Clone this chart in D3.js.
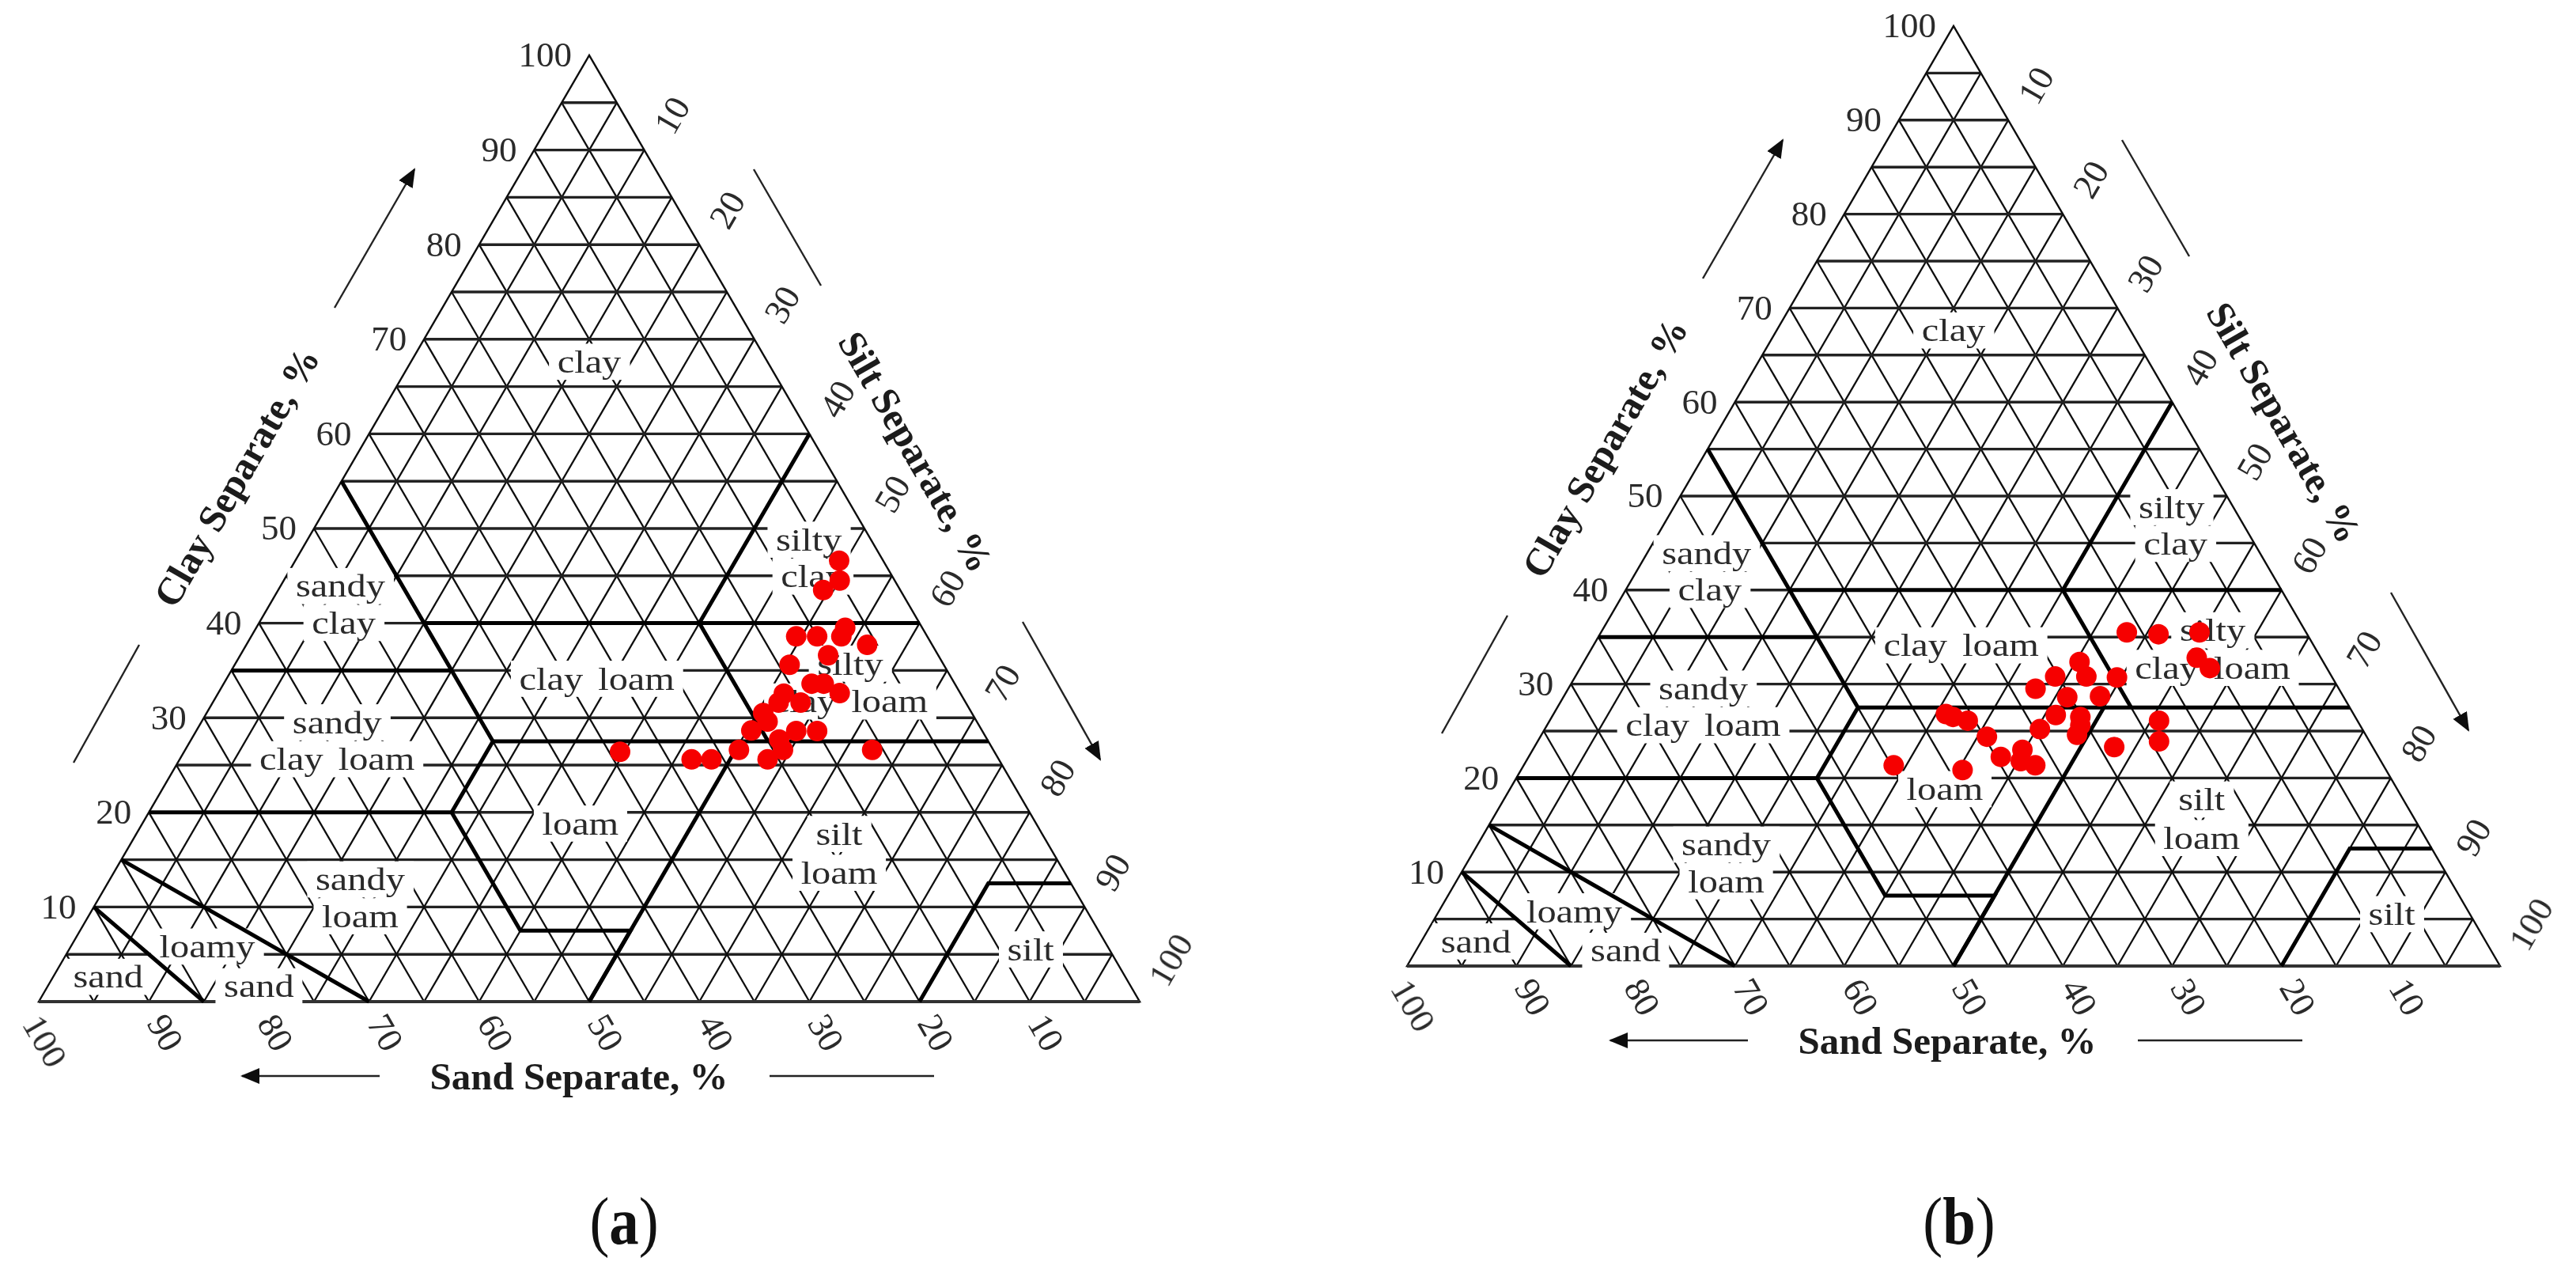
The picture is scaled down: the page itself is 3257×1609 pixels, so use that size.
<!DOCTYPE html>
<html lang="en">

<head>
    <meta charset="UTF-8">
    <title>Soil texture triangles</title>
    <script src="https://d3js.org/d3.v7.min.js"></script>
    <style>
        html, body {
            margin: 0;
            background: #fff;
        }

        text {
            font-family: "Liberation Serif", serif;
        }
    </style>
</head>

<body>
    <svg id="chart" width="3257" height="1609" viewBox="0 0 3257 1609"></svg>
    <script>
        // tick labels, all three sides
        let tickValues = [10, 20, 30, 40, 50, 60, 70, 80, 90, 100]
        let gridSteps = [5, 10, 15, 20, 25, 30, 35, 40, 45, 50, 55, 60, 65, 70, 75, 80, 85, 90, 95]

        // texture class borders as [clay, silt] runs
        let classBorders = [
            [[55, 0], [27.5, 27.5], [20, 27.5], [7.5, 40], [7.5, 50], [0, 50]],
            [[40, 15], [40, 60]],
            [[60, 40], [40, 40], [27.5, 52.5]],
            [[27.5, 27.5], [27.5, 72.5]],
            [[35, 0], [35, 20]],
            [[20, 0], [20, 27.5]],
            [[27.5, 50], [0, 50]],
            [[0, 80], [12.5, 80], [12.5, 87.5]],
            [[15, 0], [0, 30]],
            [[10, 0], [0, 15]]
        ]

        // texture class labels
        let classNames = ["clay", "silty", "clay", "sandy", "clay", "clay loam", "silty", "clay loam", "sandy", "clay loam", "loam", "silt", "loam", "sandy", "loam", "loamy", "sand", "sand", "silt"]
        let classClay = [67.5, 48.7, 44.8, 43.8, 39.9, 34, 35.6, 31.6, 29.4, 25.5, 18.7, 17.6, 13.5, 12.8, 8.9, 5.7, 1.5, 2.5, 5.4]
        let classSilt = [16.25, 45.6, 47.9, 5.5, 7.75, 33.7, 55.9, 57.9, 12.4, 14.35, 39.85, 63.9, 65.95, 22.8, 24.75, 12.45, 19.25, 5.05, 87.4]

        // samples, panel a
        let clayA = [46.6, 44.5, 43.5, 39.5, 38.6, 38.6, 38.6, 37.7, 36.6, 35.6, 33.6, 33.6, 32.6, 32.55, 31.6, 31.6, 30.5, 29.6, 28.65, 28.6, 28.6, 27.7, 26.6, 26.6, 25.6, 26.6, 25.6, 25.6, 26.4]
        let siltA = [49.4, 50.5, 49.5, 53.5, 53.6, 49.5, 51.4, 56.4, 53.4, 50.4, 53.4, 54.5, 56.45, 51.4, 51.4, 53.4, 50.55, 51.4, 50.4, 54.5, 56.4, 53.4, 54.3, 50.3, 53.4, 62.4, 46.5, 48.3, 39.6]

        // samples, panel b
        let clayB = [35.5, 35.3, 35.5, 32.8, 31.7, 32.35, 30.8, 30.8, 30.7, 29.5, 28.6, 28.7, 26.7, 26.8, 26.5, 26.1, 24.4, 25.2, 26.5, 25.6, 24.6, 26.1, 23.9, 23.3, 22.25, 23, 21.8, 21.35, 21.35, 20.85]
        let siltB = [48.1, 51.1, 54.75, 55.85, 57.6, 45.35, 46.75, 43.9, 49.6, 42.75, 46.1, 49.05, 46, 35.9, 36.7, 38.25, 40.85, 45.3, 48.35, 48.8, 49, 55.75, 56.85, 53.05, 43.2, 44.8, 45.25, 46.8, 33.85, 40.4]

        let svg = d3.select("#chart")

        let defs = svg.append("defs")
        defs.append("filter").attr("id", "soft")
            .attr("x", "-5%").attr("y", "-5%").attr("width", "110%").attr("height", "110%")
            .append("feGaussianBlur").attr("stdDeviation", 0.75)
        defs.append("marker").attr("id", "head")
            .attr("viewBox", "0 0 24 20").attr("refX", 22).attr("refY", 10)
            .attr("markerUnits", "userSpaceOnUse")
            .attr("markerWidth", 24).attr("markerHeight", 20)
            .attr("orient", "auto")
            .append("path").attr("d", "M0,0 L24,10 L0,20 Z").attr("fill", "#111")

        function drawPanel(box, caption, captionX, clayValues, siltValues) {
            let g = svg.append("g").attr("filter", "url(#soft)")

            let xFrac = d3.scaleLinear().domain([0, 100]).range([box.left, box.right])
            let yClay = d3.scaleLinear().domain([0, 100]).range([box.base, box.top])
            let px = (clay, silt) => [xFrac(silt + clay / 2), yClay(clay)]
            let line = d3.line()

            // grid
            let gridPaths = []
            gridSteps.forEach(v => {
                gridPaths.push({ pts: [[v, 0], [v, 100 - v]], across: true })
                gridPaths.push({ pts: [[0, v], [100 - v, v]] })
                gridPaths.push({ pts: [[0, 100 - v], [100 - v, 0]] })
            })
            g.append("g").selectAll("path")
                .data(gridPaths)
                .enter()
                .append("path")
                .attr("d", d => line(d.pts.map(p => px(p[0], p[1]))))
                .attr("fill", "none")
                .attr("stroke", d => d.across ? "#222" : "#111")
                .attr("stroke-width", d => d.across ? 3.4 : 2.3)

            // outline
            g.append("path")
                .attr("d", line([[0, 0], [100, 0], [0, 100]].map(p => px(p[0], p[1]))) + "Z")
                .attr("fill", "none")
                .attr("stroke", "#111")
                .attr("stroke-width", 2.4)
            g.append("path")
                .attr("d", line([[0, 0], [0, 100]].map(p => px(p[0], p[1]))))
                .attr("stroke", "#333")
                .attr("stroke-width", 4)

            // class labels knock the grid out behind them, white boxes go under all the texts
            let boxes = g.append("g")
            let names = g.append("g")
            classNames.forEach((name, i) => {
                let p = px(classClay[i], classSilt[i])
                let tf = `translate(${p[0]},${p[1]}) scale(1.18,1)`
                let t = names.append("text")
                    .attr("transform", tf)
                    .attr("text-anchor", "middle")
                    .attr("dy", "0.3em")
                    .attr("font-size", 41)
                    .attr("word-spacing", 6)
                    .attr("fill", "#2a2a2a")
                    .text(name)
                let b = t.node().getBBox()
                boxes.append("rect")
                    .attr("transform", tf)
                    .attr("fill", "#fff")
                    .attr("x", b.x - 9).attr("y", b.y).attr("width", b.width + 18).attr("height", b.height)
            })

            // borders
            g.append("g").selectAll("path")
                .data(classBorders)
                .enter()
                .append("path")
                .attr("d", d => line(d.map(p => px(p[0], p[1]))))
                .attr("fill", "none")
                .attr("stroke", "#000")
                .attr("stroke-width", 5)

            // clay ticks
            g.append("g").selectAll("text")
                .data(tickValues)
                .enter()
                .append("text")
                .attr("x", d => px(d, 0)[0] - 22)
                .attr("y", d => px(d, 0)[1] - 1)
                .attr("dy", "0.34em")
                .attr("text-anchor", "end")
                .attr("font-size", 45)
                .attr("fill", "#2a2a2a")
                .text(d => d)

            // silt ticks
            g.append("g").selectAll("text")
                .data(tickValues)
                .enter()
                .append("text")
                .attr("transform", d => {
                    let p = px(100 - d, d)
                    let o = d == 100 ? [39, -53] : [35, -44]
                    return `translate(${p[0] + o[0]},${p[1] + o[1]}) rotate(-60)`
                })
                .attr("dy", "0.34em")
                .attr("text-anchor", "middle")
                .attr("font-size", 45)
                .attr("fill", "#2a2a2a")
                .text(d => d)

            // sand ticks
            g.append("g").selectAll("text")
                .data(tickValues)
                .enter()
                .append("text")
                .attr("transform", d => {
                    let p = px(0, 100 - d)
                    let o = d == 100 ? [8, 50] : [21, 39]
                    return `translate(${p[0] + o[0]},${p[1] + o[1]}) rotate(60)`
                })
                .attr("dy", "0.34em")
                .attr("text-anchor", "middle")
                .attr("font-size", 45)
                .attr("fill", "#2a2a2a")
                .text(d => d)

            // axis titles
            let titles = [
                { text: "Clay Separate, %", x: box.left + 250, y: box.top + 533, rot: -60 },
                { text: "Silt Separate, %", x: box.left + 1109, y: box.top + 501, rot: 60 },
                { text: "Sand Separate, %", x: box.left + 683, y: box.base + 94, rot: 0 }
            ]
            g.selectAll(".title")
                .data(titles)
                .enter()
                .append("text")
                .attr("class", "title")
                .attr("transform", d => `translate(${d.x},${d.y}) rotate(${d.rot})`)
                .attr("dy", "0.34em")
                .attr("text-anchor", "middle")
                .attr("font-size", 49)
                .attr("font-weight", "bold")
                .attr("fill", "#1a1a1a")
                .text(d => d.text)

            // arrows and plain rules next to the titles
            let rules = [
                { a: [374, 319], b: [475, 144], head: true },
                { a: [127, 745], b: [44, 894] },
                { a: [904, 144], b: [989, 291] },
                { a: [1244, 716], b: [1342, 890], head: true },
                { a: [431, box.base - box.top + 94], b: [257, box.base - box.top + 94], head: true },
                { a: [924, box.base - box.top + 94], b: [1132, box.base - box.top + 94] }
            ]
            g.selectAll(".rule")
                .data(rules)
                .enter()
                .append("line")
                .attr("class", "rule")
                .attr("x1", d => box.left + d.a[0])
                .attr("y1", d => box.top + d.a[1])
                .attr("x2", d => box.left + d.b[0])
                .attr("y2", d => box.top + d.b[1])
                .attr("stroke", "#222")
                .attr("stroke-width", 2.4)
                .attr("marker-end", d => d.head ? "url(#head)" : null)

            // samples
            g.append("g").selectAll("circle")
                .data(clayValues.map((c, i) => [c, siltValues[i]]))
                .enter()
                .append("circle")
                .attr("cx", d => px(d[0], d[1])[0])
                .attr("cy", d => px(d[0], d[1])[1])
                .attr("r", 13)
                .attr("fill", "#f60000")

            // panel letter
            let cap = svg.append("text")
                .attr("transform", `translate(${captionX},1572) scale(0.88,1)`)
                .attr("text-anchor", "middle")
                .attr("font-size", 85)
                .attr("fill", "#111")
            cap.append("tspan").text("(")
            cap.append("tspan").attr("font-weight", "bold").text(caption)
            cap.append("tspan").text(")")
        }

        drawPanel({ left: 49, right: 1441, top: 70, base: 1266 }, "a", 789, clayA, siltA)
        drawPanel({ left: 1779, right: 3161, top: 33, base: 1221 }, "b", 2477, clayB, siltB)
    </script>
</body>

</html>
